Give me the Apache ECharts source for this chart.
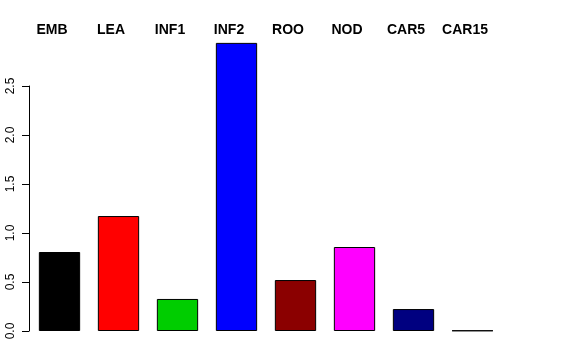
<!DOCTYPE html>
<html><head><meta charset="utf-8">
<script src="https://cdn.jsdelivr.net/npm/echarts@6/dist/echarts.min.js"></script>
<style>html,body{margin:0;padding:0;background:#fff}#c{width:576px;height:360px}</style>
</head><body><div id="c"></div>
<script>
const categories = ['EMB','LEA','INF1','INF2','ROO','NOD','CAR5','CAR15'];
const values = [0.806, 1.173, 0.327, 2.94, 0.52, 0.857, 0.224, 0.005];
const colors = ['#000000','#FF0000','#00CD00','#0000FF','#8B0000','#FF00FF','#000080','#FFFFFF'];
const yTicks = [0, 0.5, 1.0, 1.5, 2.0, 2.5];

const chart = echarts.init(document.getElementById('c'), null, {renderer:'canvas'});
chart.setOption({
  animation: false,
  grid: {left: 30, right: 74, top: 86, bottom: 29},
  xAxis: {
    type: 'category', data: categories, position: 'top',
    axisLine: {show: false}, axisTick: {show: false},
    axisLabel: {interval: 0, margin: 49, padding: [0, 15, 0, 0], fontFamily: 'Liberation Sans, Arial, sans-serif', fontWeight: 'bold', fontSize: 14, color: '#000'}
  },
  yAxis: {
    type: 'value', min: 0, max: 2.5, interval: 0.5, offset: 1,
    splitLine: {show: false},
    axisLine: {show: true, lineStyle: {color: '#000', width: 1}},
    axisTick: {show: true, length: 7, lineStyle: {color: '#000'}},
    axisLabel: {rotate: 90, margin: 12, fontFamily: 'Liberation Sans, Arial, sans-serif', fontSize: 12, color: '#000',
      formatter: v => yTicks.includes(v) ? v.toFixed(1) : ''}
  },
  series: [{
    type: 'bar', clip: false, barWidth: '70%',
    data: values.map((v, i) => ({value: v, itemStyle: {color: colors[i]}})),
    itemStyle: {borderColor: '#000', borderWidth: 1}
  }]
});
</script></body></html>
